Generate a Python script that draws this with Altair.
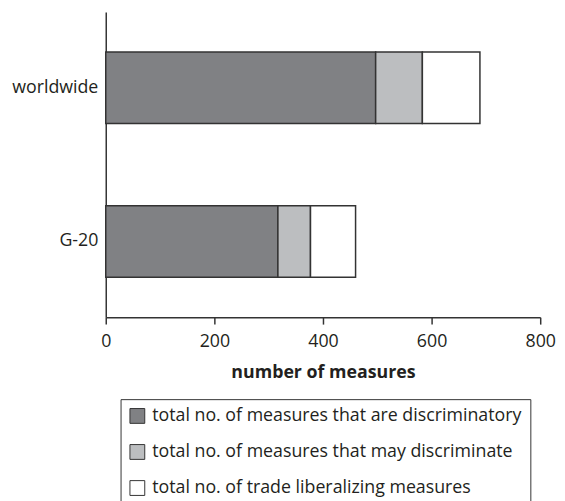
import altair as alt
import pandas as pd

regions = ["worldwide", "G-20"]
series = [
    "total no. of measures that are discriminatory",
    "total no. of measures that may discriminate",
    "total no. of trade liberalizing measures",
]
discriminatory = [497, 317]
may_discriminate = [86, 60]
liberalizing = [106, 83]
colors = ["#808184", "#bcbec0", "#ffffff"]

rows = []
for i, r in enumerate(regions):
    for k, (s, vals) in enumerate(zip(series, [discriminatory, may_discriminate, liberalizing])):
        rows.append({"region": r, "series": s, "value": vals[i], "order": k})
df = pd.DataFrame(rows)

FONT = "Open Sans"
TXT = "#231f20"
FS = 18

chart = alt.Chart(df).mark_bar(stroke="#333333", strokeWidth=1.5).encode(
    y=alt.Y("region:N", sort=regions, title=None,
            scale=alt.Scale(paddingInner=0.535, paddingOuter=0.26),
            axis=alt.Axis(ticks=False, labelPadding=8, labelFontSize=FS, labelFont=FONT,
                          labelColor=TXT, domainColor="#333333", domainWidth=1.5)),
    x=alt.X("value:Q", stack="zero", title="number of measures",
            scale=alt.Scale(domain=[0, 800]),
            axis=alt.Axis(values=[0, 200, 400, 600, 800], grid=False, tickSize=7,
                          tickColor="#333333", tickWidth=1.5, domainColor="#333333",
                          domainWidth=1.5, labelFontSize=FS, labelFont=FONT, labelColor=TXT,
                          labelFlush=False, labelPadding=9, titleFont=FONT, titleFontSize=FS,
                          titleFontWeight="bold", titleColor=TXT, titlePadding=13)),
    color=alt.Color("series:N", sort=series,
                    scale=alt.Scale(domain=series, range=colors),
                    legend=alt.Legend(title=None, orient="none", legendX=15, legendY=392,
                                      symbolType="square", symbolSize=225,
                                      symbolStrokeColor="#333333", symbolStrokeWidth=1,
                                      symbolOpacity=1,
                                      labelFont=FONT, labelFontSize=FS, labelColor=TXT,
                                      labelLimit=0, rowPadding=16.5, padding=8,
                                      strokeColor="#333333",
                                      symbolOffset=0, labelOffset=6)),
    order=alt.Order("order:Q", sort="ascending"),
).properties(
    width=440, height=309,
    autosize=alt.AutoSizeParams(type="none"),
    padding={"left": 99, "top": 1, "right": 17, "bottom": 183},
).configure_view(stroke=None)

chart.save("out.html", embed_options={"renderer": "svg", "actions": False})
